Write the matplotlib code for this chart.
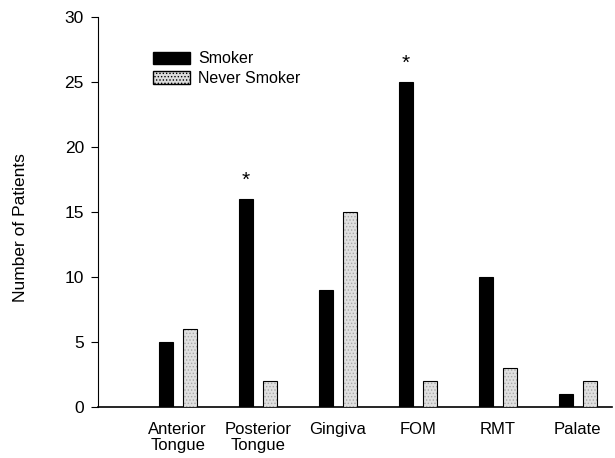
import matplotlib
matplotlib.use("Agg")
import matplotlib.pyplot as plt
from matplotlib.patches import Patch
import numpy as np

categories = ["Anterior\nTongue", "Posterior\nTongue", "Gingiva", "FOM", "RMT", "Palate"]
smoker = [5, 16, 9, 25, 10, 1]
never_smoker = [6, 2, 15, 2, 3, 2]
significant = [False, True, False, True, False, False]
yticks = [0, 5, 10, 15, 20, 25, 30]

plt.rcParams['font.family'] = ['Liberation Sans', 'DejaVu Sans']
plt.rcParams['hatch.linewidth'] = 0.6

fig = plt.figure(figsize=(6.15, 4.58), dpi=100)
ax = fig.add_axes([0.159, 0.111, 0.836, 0.852])

x = np.arange(len(categories))
w = 0.175
off = 0.15
ax.bar(x - off, smoker, width=w, color='black', edgecolor='black', linewidth=0.8, zorder=3)
ax.bar(x + off, never_smoker, width=w, color='#e0e0e0', edgecolor='#a8a8a8', hatch='.....', linewidth=0, zorder=3)
ax.bar(x + off, never_smoker, width=w, facecolor='none', edgecolor='black', linewidth=0.8, zorder=4)

for xi, v, s in zip(x, smoker, significant):
    if s:
        ax.text(xi - off, v + 0.7, "*", ha='center', va='bottom', fontsize=15)

ax.set_xlim(-1, 5.43)
ax.set_ylim(0, 30)
ax.set_yticks(yticks)
ax.set_yticklabels([str(t) for t in yticks], fontsize=12.5)
ax.set_xticks(x)
ax.set_xticklabels(categories, fontsize=12, va='top', linespacing=1.05)
ax.tick_params(axis='x', length=0, pad=11)
ax.tick_params(axis='y', direction='out', length=5, width=0.8, pad=5)
ax.spines['top'].set_visible(False)
ax.spines['right'].set_visible(False)
ax.spines['left'].set_linewidth(0.8)
ax.spines['bottom'].set_linewidth(1.2)
ax.set_ylabel("Number of Patients", fontsize=12.5)
ax.yaxis.set_label_coords(-0.135, 0.46)

handles = [Patch(facecolor='black', edgecolor='black'),
           Patch(facecolor='#dcdcdc', edgecolor='black', hatch='.....')]
ax.legend(handles, ["Smoker", "Never Smoker"], loc='upper left', bbox_to_anchor=(0.107, 0.912),
          frameon=False, fontsize=11.5, handlelength=2.3, handleheight=0.8, labelspacing=0.3,
          handletextpad=0.55, borderpad=0, borderaxespad=0)

fig.savefig("out.png", dpi=100)
